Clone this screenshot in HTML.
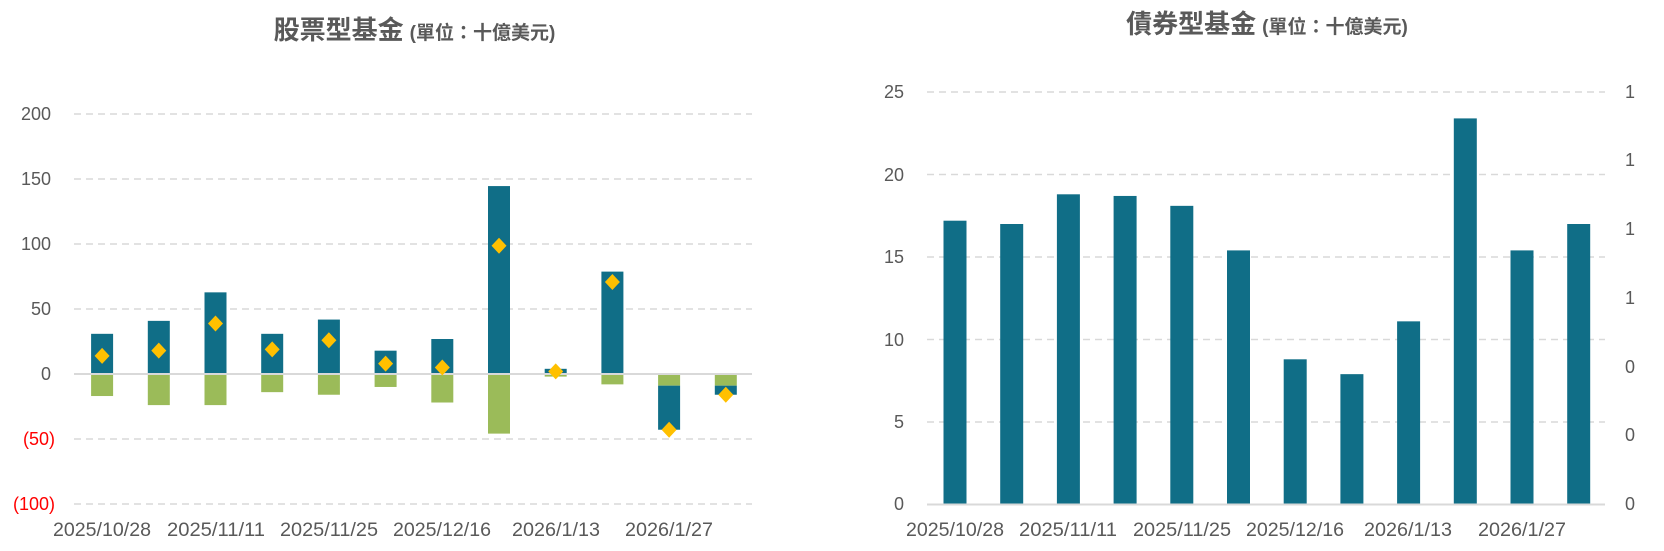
<!DOCTYPE html>
<html><head><meta charset="utf-8"><style>
html,body{margin:0;padding:0;background:#fff;}
svg{display:block;}
text{font-family:"Liberation Sans","Noto Sans CJK TC",sans-serif;fill:#595959;}
</style></head><body>
<svg width="1664" height="551" viewBox="0 0 1664 551" xmlns="http://www.w3.org/2000/svg">
<!-- Left title -->
<text x="414.5" y="39" text-anchor="middle" font-weight="bold"><tspan font-size="26">股票型基金</tspan><tspan font-size="19" dx="6">(單位：十億美元)</tspan></text>
<!-- Left grid -->
<g stroke="#d9d9d9" stroke-width="1.5" stroke-dasharray="7,5">
<line x1="74" x2="752" y1="114" y2="114"/>
<line x1="74" x2="752" y1="179" y2="179"/>
<line x1="74" x2="752" y1="244" y2="244"/>
<line x1="74" x2="752" y1="309" y2="309"/>
<line x1="74" x2="752" y1="439" y2="439"/>
<line x1="74" x2="752" y1="504" y2="504"/>
</g>
<g font-size="18" text-anchor="end">
<text x="51" y="120">200</text>
<text x="51" y="185">150</text>
<text x="51" y="250">100</text>
<text x="51" y="315">50</text>
<text x="51" y="380">0</text>
<text x="55" y="445" style="fill:#ff0000">(50)</text>
<text x="55" y="510" style="fill:#ff0000">(100)</text>
</g>
<g id="lbars"></g>
<line x1="74" x2="752" y1="374" y2="374" stroke="#d9d9d9" stroke-width="2"/>
<g id="ldia"></g>
<g font-size="19" text-anchor="middle">
<text x="102" y="536" textLength="98" lengthAdjust="spacingAndGlyphs">2025/10/28</text>
<text x="216" y="536" textLength="98" lengthAdjust="spacingAndGlyphs">2025/11/11</text>
<text x="329" y="536" textLength="98" lengthAdjust="spacingAndGlyphs">2025/11/25</text>
<text x="442" y="536" textLength="98" lengthAdjust="spacingAndGlyphs">2025/12/16</text>
<text x="556" y="536" textLength="88" lengthAdjust="spacingAndGlyphs">2026/1/13</text>
<text x="669" y="536" textLength="88" lengthAdjust="spacingAndGlyphs">2026/1/27</text>
</g>

<!-- Right title -->
<text x="1267" y="33" text-anchor="middle" font-weight="bold"><tspan font-size="26">債券型基金</tspan><tspan font-size="19" dx="6">(單位：十億美元)</tspan></text>
<g stroke="#d9d9d9" stroke-width="1.5" stroke-dasharray="7,5">
<line x1="927" x2="1605" y1="92" y2="92"/>
<line x1="927" x2="1605" y1="174.5" y2="174.5"/>
<line x1="927" x2="1605" y1="257" y2="257"/>
<line x1="927" x2="1605" y1="339.5" y2="339.5"/>
<line x1="927" x2="1605" y1="422" y2="422"/>
</g>
<g font-size="18" text-anchor="end">
<text x="904" y="98">25</text>
<text x="904" y="181">20</text>
<text x="904" y="263">15</text>
<text x="904" y="346">10</text>
<text x="904" y="428">5</text>
<text x="904" y="510">0</text>
</g>
<g font-size="18">
<text x="1625" y="98">1</text>
<text x="1625" y="166">1</text>
<text x="1625" y="235">1</text>
<text x="1625" y="304">1</text>
<text x="1625" y="373">0</text>
<text x="1625" y="441">0</text>
<text x="1625" y="510">0</text>
</g>
<g id="rbars" fill="#106e87"></g>
<line x1="927" x2="1605" y1="504.5" y2="504.5" stroke="#d9d9d9" stroke-width="2"/>
<g font-size="19" text-anchor="middle">
<text x="955" y="536" textLength="98" lengthAdjust="spacingAndGlyphs">2025/10/28</text>
<text x="1068" y="536" textLength="98" lengthAdjust="spacingAndGlyphs">2025/11/11</text>
<text x="1182" y="536" textLength="98" lengthAdjust="spacingAndGlyphs">2025/11/25</text>
<text x="1295" y="536" textLength="98" lengthAdjust="spacingAndGlyphs">2025/12/16</text>
<text x="1408" y="536" textLength="88" lengthAdjust="spacingAndGlyphs">2026/1/13</text>
<text x="1522" y="536" textLength="88" lengthAdjust="spacingAndGlyphs">2026/1/27</text>
</g>
</svg>
<script>
(function(){
var ns="http://www.w3.org/2000/svg";
function r(g,x,y,w,h,f){var e=document.createElementNS(ns,"rect");e.setAttribute("x",x);e.setAttribute("y",y);e.setAttribute("width",w);e.setAttribute("height",h);e.setAttribute("fill",f);g.appendChild(e);}
var Z=374,S=1.296;
function Y(v){return Z-v*S;}
var d=[[0,31,0,-17,14],[0,41,0,-24,18],[0,63,0,-24,39],[0,31,0,-14,19],[0,42,0,-16,26],[0,18,0,-10,8],[0,27,0,-22,5],[0,145,0,-46,99],[0,4,0,-2,2],[0,79,0,-8,71],[-9,-43,0,-9,-43],[-9,-16,0,-9,-16]];
var lb=document.getElementById("lbars"),ld=document.getElementById("ldia");
d.forEach(function(a,i){
 var c=102.1+56.7*i,w=22;
 var y1=Y(Math.max(a[2],a[3])),y2=Y(Math.min(a[2],a[3]));r(lb,c-w/2,y1,w,y2-y1,"#9bbb59");
 y1=Y(Math.max(a[0],a[1]));y2=Y(Math.min(a[0],a[1]));r(lb,c-w/2,y1,w,y2-y1,"#106e87");
 var yy=Y(a[4]),p=document.createElementNS(ns,"polygon");
 p.setAttribute("points",(c)+","+(yy-8)+" "+(c+7.5)+","+yy+" "+c+","+(yy+8)+" "+(c-7.5)+","+yy);
 p.setAttribute("fill","#ffc000");ld.appendChild(p);
});
var rv=[17.2,17.0,18.8,18.7,18.1,15.4,8.8,7.9,11.1,23.4,15.4,17.0];
var rb=document.getElementById("rbars");
rv.forEach(function(v,i){var c=955+56.7*i,y=504.5-v*16.5;r(rb,c-11.5,y,23,504.5-y,"#106e87");});
})();
</script>
</body></html>
